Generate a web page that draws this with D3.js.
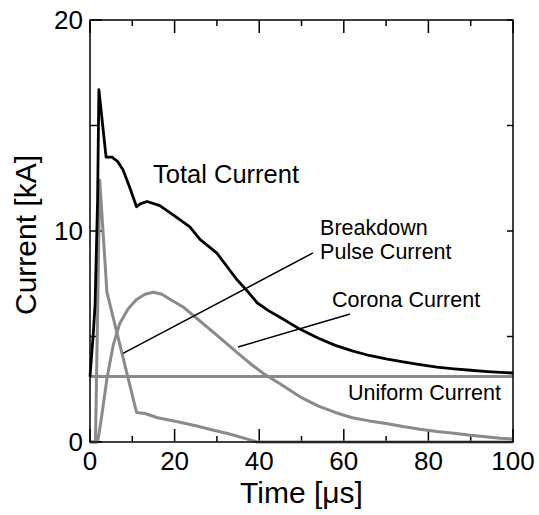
<!DOCTYPE html>
<html lang="en">
<head>
    <meta charset="UTF-8">
    <title>Current components</title>
    <script src="https://d3js.org/d3.v7.min.js"></script>
    <style>
        body {
            margin: 0;
            background-color: #ffffff;
        }
        svg {
            display: block;
            font-family: "Liberation Sans", Arial, sans-serif;
        }
        .curve {
            fill: none;
            stroke-linejoin: round;
        }
        .tick-label {
            font-size: 26px;
            fill: #000;
        }
        .axis-title {
            font-size: 30px;
            fill: #000;
        }
        .note {
            font-size: 21.5px;
            fill: #000;
        }
    </style>
</head>
<body>
<svg width="539" height="515"></svg>
<script>
    // values: time in µs, current in kA
    const xTicks = [0, 20, 40, 60, 80, 100];
    const xMinorTicks = [10, 30, 50, 70, 90];
    const yTicks = [0, 10, 20];
    const yMinorTicks = [5, 15];

    const totalCurrent = [
        [0, 3.1], [0.8, 5.2], [1.2, 6.5], [1.8, 11.5], [2.1, 16.7], [3.8, 13.5],
        [5.2, 13.5], [6.5, 13.3], [7.8, 12.9], [9.5, 12.0], [11, 11.15], [12, 11.3],
        [13.5, 11.4], [16.5, 11.2], [20.5, 10.65], [23.6, 10.2], [26, 9.6], [30, 8.95],
        [34.7, 7.7], [37, 7.2], [39.5, 6.6], [42, 6.25], [45, 5.9], [49.6, 5.35],
        [54, 4.92], [58, 4.58], [62, 4.32], [66, 4.1], [70, 3.94], [74, 3.8],
        [78, 3.67], [82, 3.55], [86, 3.47], [90, 3.4], [94, 3.34], [97, 3.3], [100, 3.27]
    ];

    const breakdownCurrent = [
        [0, 0], [1.3, 0], [2.3, 12.4], [4, 7.1], [11, 1.4], [13, 1.35], [16, 1.15],
        [21, 0.95], [25, 0.77], [29, 0.57], [33, 0.38], [37, 0.15], [39.5, 0], [100, 0]
    ];

    const coronaCurrent = [
        [0, 0], [1.8, 0], [2.6, 1.0], [4, 3.0], [5.5, 4.6], [7, 5.6], [9, 6.3],
        [11, 6.75], [13, 7.0], [15, 7.1], [17, 7.0], [19, 6.75], [22, 6.4], [25, 5.9],
        [28, 5.4], [31.5, 4.8], [35, 4.2], [38, 3.7], [41, 3.25], [45, 2.75], [50, 2.1],
        [54, 1.7], [58, 1.4], [62, 1.15], [66, 1.0], [70, 0.88], [74, 0.73], [78, 0.6],
        [82, 0.5], [86, 0.42], [90, 0.32], [94, 0.24], [97, 0.18], [100, 0.14]
    ];

    const uniformCurrent = [[0, 3.1], [100, 3.1]];

    // leader lines from the labels to their curves
    const breakdownLeader = [[7.8, 4.2], [52.7, 8.96]];
    const coronaLeader = [[35, 4.5], [61.5, 6.07]];

    const svg = d3.select("svg"),
        margin = {top: 20, right: 26, bottom: 73, left: 90},
        width = +svg.attr("width") - margin.left - margin.right,
        height = +svg.attr("height") - margin.top - margin.bottom,
        g = svg.append("g").attr("transform", `translate(${margin.left},${margin.top})`);

    const x = d3.scaleLinear().domain([0, 100]).range([0, width]),
        y = d3.scaleLinear().domain([0, 20]).range([height, 0]);

    const line = d3.line()
        .x(d => x(d[0]))
        .y(d => y(d[1]));

    // ticks on all four sides, pointing inward
    function tickMarks(values, len, side) {
        values.forEach(v => {
            const t = g.append("line").attr("stroke", "#000").attr("stroke-width", 1.5);
            if (side === "bottom") t.attr("x1", x(v)).attr("x2", x(v)).attr("y1", height).attr("y2", height - len);
            if (side === "top") t.attr("x1", x(v)).attr("x2", x(v)).attr("y1", 0).attr("y2", len);
            if (side === "left") t.attr("y1", y(v)).attr("y2", y(v)).attr("x1", 0).attr("x2", len);
            if (side === "right") t.attr("y1", y(v)).attr("y2", y(v)).attr("x1", width).attr("x2", width - len);
        });
    }
    tickMarks(xTicks, 13, "bottom");
    tickMarks(xMinorTicks, 6, "bottom");
    tickMarks(xTicks, 13, "top");
    tickMarks(xMinorTicks, 6, "top");
    tickMarks(yTicks, 12, "left");
    tickMarks(yMinorTicks, 7, "left");
    tickMarks(yTicks, 6, "right");
    tickMarks(yMinorTicks, 6, "right");

    g.selectAll(".xlab")
        .data(xTicks)
        .enter().append("text")
        .attr("class", "tick-label")
        .attr("x", d => x(d))
        .attr("y", height + 28)
        .attr("text-anchor", "middle")
        .text(d => d);

    g.selectAll(".ylab")
        .data(yTicks)
        .enter().append("text")
        .attr("class", "tick-label")
        .attr("x", -7)
        .attr("y", d => y(d) + 9)
        .attr("text-anchor", "end")
        .text(d => d);

    svg.append("text")
        .attr("class", "axis-title")
        .attr("x", margin.left + width / 2)
        .attr("y", 503)
        .attr("text-anchor", "middle")
        .text("Time [\u03bcs]");

    svg.append("text")
        .attr("class", "axis-title")
        .attr("transform", "translate(36,235) rotate(-90)")
        .attr("text-anchor", "middle")
        .text("Current [kA]");

    // curves
    g.append("path").datum(uniformCurrent).attr("class", "curve")
        .attr("stroke", "#8a8a8a").attr("stroke-width", 3).attr("d", line);
    g.append("path").datum(coronaCurrent).attr("class", "curve")
        .attr("stroke", "#8a8a8a").attr("stroke-width", 3).attr("d", line);
    g.append("path").datum(breakdownCurrent).attr("class", "curve")
        .attr("stroke", "#8a8a8a").attr("stroke-width", 3).attr("d", line);
    g.append("path").datum(totalCurrent).attr("class", "curve")
        .attr("stroke", "#000").attr("stroke-width", 2.8).attr("d", line);

    g.append("path").datum(breakdownLeader).attr("class", "curve")
        .attr("stroke", "#000").attr("stroke-width", 1.5).attr("d", line);
    g.append("path").datum(coronaLeader).attr("class", "curve")
        .attr("stroke", "#000").attr("stroke-width", 1.5).attr("d", line);

    // frame
    g.append("rect")
        .attr("width", width).attr("height", height)
        .attr("fill", "none").attr("stroke", "#000").attr("stroke-width", 1.5);

    // labels
    g.append("text").attr("x", x(14.9)).attr("y", y(12.27))
        .attr("font-size", "25.5px").text("Total Current");
    g.append("text").attr("class", "note").attr("x", x(54.4)).attr("y", y(9.8)).text("Breakdown");
    g.append("text").attr("class", "note").attr("x", x(54.4)).attr("y", y(8.67)).text("Pulse Current");
    g.append("text").attr("class", "note").attr("x", x(57.2)).attr("y", y(6.4)).text("Corona Current");
    g.append("text").attr("class", "note").attr("x", x(61)).attr("y", y(1.99)).text("Uniform Current");
</script>
</body>
</html>
